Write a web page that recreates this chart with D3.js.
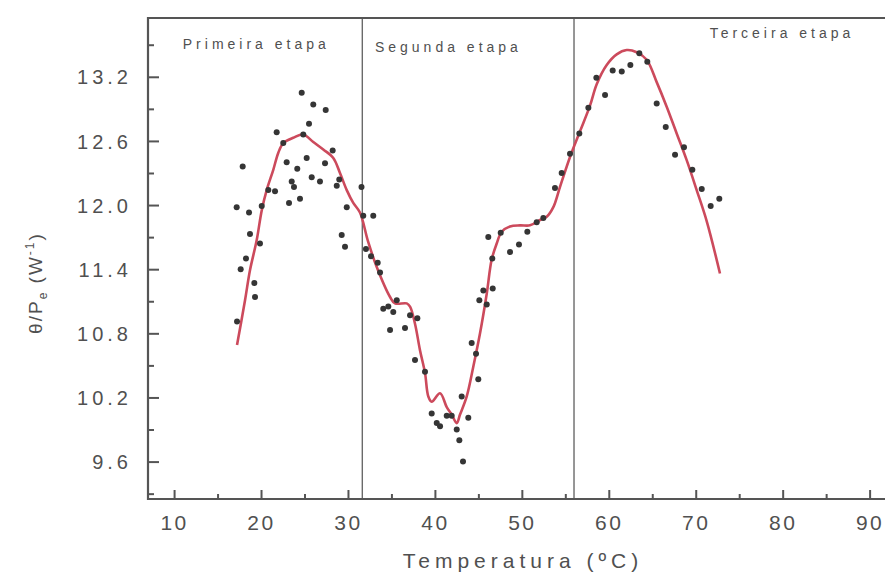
<!DOCTYPE html>
<html>
<head>
<meta charset="utf-8">
<script src="https://cdn.jsdelivr.net/npm/d3@7"></script>
<style>
  html, body { margin: 0; padding: 0; background: #fff; }
  svg { display: block; font-family: Arial, "Liberation Sans", Helvetica, sans-serif; }
</style>
</head>
<body>
<svg id="chart" width="885" height="573"></svg>
<script>
// Axis ticks
const xTicks = [10, 20, 30, 40, 50, 60, 70, 80, 90];
const xMinorTicks = [15, 25, 35, 45, 55, 65, 75, 85];
const yTicks = [9.6, 10.2, 10.8, 11.4, 12.0, 12.6, 13.2];
const yMinorTicks = [9.3, 9.9, 10.5, 11.1, 11.7, 12.3, 12.9, 13.5];

// Stage boundaries (°C) and stage names
const stageBounds = [31.65, 56.0];
const stageNames = ["Primeira etapa", "Segunda etapa", "Terceira etapa"];

// Measured points: temperature (°C) and θ/Pe (W⁻¹)
const pointT = [17.20, 17.89, 17.24, 17.66, 18.27, 18.62, 18.73, 19.23, 19.31, 19.88,
  20.08, 20.84, 21.61, 21.80, 22.56, 22.95, 23.22, 23.53, 23.79, 24.17,
  24.48, 24.68, 24.86, 25.25, 25.52, 25.83, 26.01, 26.78, 27.36, 27.44,
  28.24, 28.71, 29.00, 29.28, 29.66, 29.86, 31.56, 31.76, 32.91, 32.07,
  32.65, 33.42, 33.69, 34.06, 34.64, 35.21, 35.61, 34.84, 36.56, 37.14,
  37.98, 37.71, 38.86, 39.63, 40.21, 40.59, 41.36, 41.93, 42.51, 42.81,
  43.23, 43.08, 43.84, 44.23, 44.73, 44.99, 45.11, 45.57, 45.96, 46.65,
  46.60, 46.14, 47.57, 48.64, 49.67, 50.63, 51.71, 52.47, 53.81, 54.58,
  55.54, 56.61, 57.65, 58.57, 59.57, 60.45, 61.49, 62.48, 63.51, 64.43,
  65.51, 66.55, 67.62, 68.65, 69.61, 70.69, 71.72, 72.71];
const pointV = [11.98, 12.36, 10.91, 11.40, 11.50, 11.93, 11.73, 11.27, 11.14, 11.64,
  11.99, 12.14, 12.13, 12.68, 12.58, 12.40, 12.02, 12.22, 12.17, 12.34,
  12.06, 13.05, 12.66, 12.44, 12.76, 12.26, 12.94, 12.22, 12.39, 12.89,
  12.51, 12.18, 12.24, 11.72, 11.61, 11.98, 12.17, 11.90, 11.90, 11.59,
  11.52, 11.46, 11.37, 11.03, 11.05, 11.00, 11.11, 10.83, 10.85, 10.97,
  10.94, 10.55, 10.44, 10.05, 9.96, 9.93, 10.03, 10.03, 9.90, 9.80,
  9.60, 10.21, 10.01, 10.71, 10.61, 10.37, 11.11, 11.20, 11.07, 11.22,
  11.50, 11.70, 11.74, 11.56, 11.63, 11.75, 11.84, 11.88, 12.16, 12.30,
  12.48, 12.67, 12.91, 13.19, 13.03, 13.26, 13.25, 13.31, 13.42, 13.34,
  12.95, 12.73, 12.47, 12.54, 12.33, 12.15, 11.99, 12.06];

// Fitted curve
const fitT = [17.24, 18.16, 18.73, 19.50, 20.08, 20.65, 21.41, 21.99, 22.56, 23.71,
  24.86, 26.01, 27.16, 28.31, 29.08, 29.86, 30.61, 31.38, 32.31, 33.31,
  34.84, 35.41, 36.76, 37.14, 37.71, 38.29, 38.86, 39.24, 39.63, 40.59,
  41.36, 41.93, 42.51, 42.89, 43.66, 44.42, 45.19, 45.96, 46.53, 47.11,
  47.68, 48.64, 49.79, 50.94, 52.09, 52.86, 53.62, 54.39, 55.54, 56.69,
  57.84, 58.61, 59.76, 60.91, 62.06, 63.21, 64.36, 65.51, 66.66, 67.81,
  68.96, 70.11, 71.26, 72.79];
const fitV = [10.69, 11.11, 11.39, 11.67, 11.95, 12.14, 12.33, 12.49, 12.58, 12.63,
  12.66, 12.59, 12.52, 12.44, 12.30, 12.14, 12.02, 11.93, 11.66, 11.42,
  11.14, 11.08, 11.08, 11.05, 10.89, 10.64, 10.43, 10.21, 10.16, 10.24,
  10.11, 10.04, 9.96, 10.04, 10.21, 10.49, 10.80, 11.17, 11.49, 11.64,
  11.75, 11.80, 11.81, 11.81, 11.86, 11.89, 11.98, 12.17, 12.45, 12.69,
  12.93, 13.13, 13.31, 13.41, 13.45, 13.43, 13.36, 13.15, 12.92, 12.67,
  12.42, 12.14, 11.85, 11.36];

const points = pointT.map((t, i) => ({ t, v: pointV[i] }));
const fit = fitT.map((t, i) => ({ t, v: fitV[i] }));

const svg = d3.select("#chart");
const ink = "#555";
const textInk = "#505050";

const plot = { left: 148, top: 18, bottom: 499, right: 887 };
const x = d3.scaleLinear().domain([7, 92]).range([plot.left, plot.right]);
const y = d3.scaleLinear().domain([9.25, 13.75]).range([plot.bottom, plot.top]);

// Stage separators
svg.append("g").selectAll("line")
  .data(stageBounds)
  .join("line")
  .attr("x1", d => x(d)).attr("x2", d => x(d))
  .attr("y1", plot.top).attr("y2", plot.bottom)
  .attr("stroke", "#6a6a6a").attr("stroke-width", 1.4);

// Fitted curve
const line = d3.line()
  .x(d => x(d.t)).y(d => y(d.v))
  .curve(d3.curveCatmullRom.alpha(0.5));
svg.append("path")
  .datum(fit)
  .attr("d", line)
  .attr("fill", "none")
  .attr("stroke", "#cc4a5c")
  .attr("stroke-width", 2.6)
  .attr("stroke-linejoin", "round");

// Measured points
svg.append("g").selectAll("circle")
  .data(points)
  .join("circle")
  .attr("cx", d => x(d.t)).attr("cy", d => y(d.v))
  .attr("r", 3)
  .attr("fill", "#353535");

// Frame: top, left and bottom edges (the right edge runs past the page)
svg.append("path")
  .attr("d", `M${plot.right + 5},${plot.top}H${plot.left}V${plot.bottom}H${plot.right + 5}`)
  .attr("fill", "none").attr("stroke", ink).attr("stroke-width", 2.2);

// Bottom axis, ticks pointing inward
const gx = svg.append("g").attr("transform", `translate(0,${plot.bottom})`);
gx.call(d3.axisBottom(x).tickValues(xTicks).tickSize(-9).tickFormat(d3.format("d")));
gx.append("g").call(d3.axisBottom(x).tickValues(xMinorTicks).tickSize(-5).tickFormat(""));
gx.selectAll(".domain").remove();
gx.selectAll("line").attr("stroke", ink).attr("stroke-width", 2);
gx.selectAll("text")
  .attr("y", 31).attr("dy", null)
  .attr("fill", textInk)
  .style("font-size", "21px")
  .style("letter-spacing", "2.5px");

// Left axis, ticks pointing inward
const gy = svg.append("g").attr("transform", `translate(${plot.left},0)`);
gy.call(d3.axisLeft(y).tickValues(yTicks).tickSize(-11).tickFormat(d3.format(".1f")));
gy.append("g").call(d3.axisLeft(y).tickValues(yMinorTicks).tickSize(-6).tickFormat(""));
gy.selectAll(".domain").remove();
gy.selectAll("line").attr("stroke", ink).attr("stroke-width", 2);
gy.selectAll("text")
  .attr("x", -16).attr("dy", "0.36em")
  .attr("fill", textInk)
  .style("font-size", "20px")
  .style("letter-spacing", "4px");

// Stage names
const stagePos = [
  { t: 11.0, py: 49 },
  { t: 33.1, py: 52 },
  { t: 71.6, py: 38 }
];
svg.append("g").selectAll("text")
  .data(stageNames)
  .join("text")
  .attr("x", (d, i) => x(stagePos[i].t))
  .attr("y", (d, i) => stagePos[i].py)
  .attr("fill", textInk)
  .style("font-size", "14px")
  .style("letter-spacing", "4px")
  .text(d => d);

// Axis titles
svg.append("text")
  .attr("x", 523).attr("y", 568)
  .attr("text-anchor", "middle")
  .attr("fill", textInk)
  .style("font-size", "21px")
  .style("letter-spacing", "5px")
  .text("Temperatura (ºC)");

const yTitle = svg.append("text")
  .attr("transform", "translate(42,283) rotate(-90)")
  .attr("text-anchor", "middle")
  .attr("fill", textInk)
  .style("font-size", "19px")
  .style("letter-spacing", "2px");
yTitle.append("tspan").text("θ/P");
yTitle.append("tspan").attr("dy", 5).style("font-size", "12px").text("e");
yTitle.append("tspan").attr("dy", -5).text(" (W");
yTitle.append("tspan").attr("dy", -8).style("font-size", "12px").text("-1");
yTitle.append("tspan").attr("dy", 8).text(")");
</script>
</body>
</html>
